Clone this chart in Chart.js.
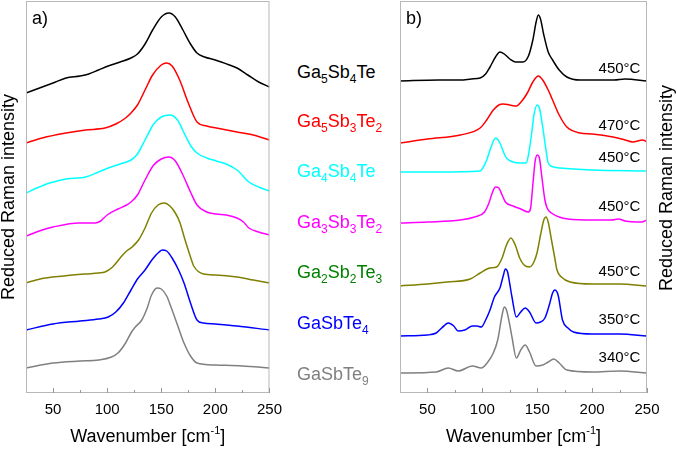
<!DOCTYPE html>
<html>
<head>
<meta charset="utf-8">
<script src="https://cdn.jsdelivr.net/npm/chart.js@4.4.1/dist/chart.umd.min.js"></script>
<style>
  body { margin: 0; width: 677px; height: 449px; position: relative; background: #fff; overflow: hidden;
         font-family: "Liberation Sans", Arial, sans-serif; }
  #boxA { position: absolute; left: 0; top: 0; }
  #boxB { position: absolute; left: 380px; top: 0; }
  .lab { position: absolute; left: 297px; font-size: 18px; line-height: 18px; white-space: nowrap; }
  .lab sub { font-size: 12px; line-height: 0; vertical-align: -5px; }
</style>
</head>
<body>
<canvas id="boxA" width="290" height="449"></canvas>
<canvas id="boxB" width="297" height="449"></canvas>

<div class="lab" style="top:63px;color:#000000">Ga<sub>5</sub>Sb<sub>4</sub>Te</div>
<div class="lab" style="top:112px;color:#ff0000">Ga<sub>5</sub>Sb<sub>3</sub>Te<sub>2</sub></div>
<div class="lab" style="top:162px;color:#00ffff">Ga<sub>4</sub>Sb<sub>4</sub>Te</div>
<div class="lab" style="top:213px;color:#ff00ff">Ga<sub>3</sub>Sb<sub>3</sub>Te<sub>2</sub></div>
<div class="lab" style="top:263px;color:#008000">Ga<sub>2</sub>Sb<sub>2</sub>Te<sub>3</sub></div>
<div class="lab" style="top:314px;color:#0000ff">GaSbTe<sub>4</sub></div>
<div class="lab" style="top:365px;color:#808080">GaSbTe<sub>9</sub></div>

<script>
// spectra: [wavenumber, reduced intensity + stack offset]
const a_Ga5Sb4Te = [[25,300],[35,304],[50,310],[62,315],[75,317],[83,319],[92,323],[101,327],[112,331],[122,335],[128,339],[135,349],[142,363],[150,376],[157,380],[163,376],[170,363],[177,349],[183,340],[190,336],[200,333],[213,328],[220,325],[230,318],[240,311],[250,306]];
const a_Ga5Sb3Te2 = [[25,250],[40,255],[62,260],[80,263],[98,265],[108,269],[117,275],[122,280],[128,288],[135,303],[142,318],[150,328],[155,330],[160,327],[167,313],[175,290],[183,271],[192,267],[201,265],[220,261],[235,258],[250,253]];
const a_Ga4Sb4Te = [[25,200],[35,205],[47,210],[62,214],[80,216],[92,221],[101,225],[112,229],[122,233],[128,239],[135,253],[143,269],[150,276],[158,278],[165,273],[172,258],[178,246],[183,240],[192,235],[201,232],[210,229],[220,223],[231,211],[240,206],[250,202]];
const a_Ga3Sb3Te2 = [[25,157],[40,163],[50,166],[74,170],[89,170],[94,172],[100,178],[110,184],[118,188],[122,191],[128,198],[135,213],[143,228],[150,234],[157,236],[163,232],[170,218],[177,201],[183,188],[192,181],[201,179],[210,178],[220,175],[226,171],[231,165],[240,161],[250,158]];
const a_Ga2Sb2Te3 = [[25,110],[38,114],[60,117],[80,119],[92,120],[98,121],[105,126],[112,135],[117,141],[123,146],[129,153],[135,165],[141,180],[147,188],[153,190],[158,187],[163,180],[167,171],[172,153],[177,136],[180,127],[189,119],[200,118],[220,116],[235,113],[250,110]];
const a_GaSbTe4 = [[25,63],[50,69],[75,72],[92,74],[101,76],[108,81],[115,90],[122,103],[128,114],[135,123],[142,134],[148,141],[151,143],[155,142],[160,135],[166,123],[171,110],[177,90],[183,73],[189,70],[200,69],[220,67],[250,63]];
const a_GaSbTe9 = [[25,25],[50,30],[75,32],[92,33],[104,36],[110,40],[117,50],[122,60],[126,66],[132,73],[137,85],[141,98],[146,105],[150,104],[155,97],[159,86],[165,68],[171,50],[177,37],[183,30],[200,28],[225,27],[250,25]];

const b_Ga5Sb4Te = [[25,312],[60,313],[80,313],[90,314],[98,315],[103,319],[107,326],[112,336],[116,341],[120,339],[125,334],[130,331],[137,331],[142,337],[146,353],[149,371],[151,378],[153,374],[156,358],[160,341],[164,333],[170,323],[177,316],[189,313],[220,313],[230,314],[250,312]];
const b_Ga5Sb3Te2 = [[25,250],[50,254],[80,258],[98,265],[104,273],[110,283],[115,288],[119,289],[125,288],[131,287],[136,292],[141,300],[146,311],[151,317],[155,313],[160,303],[164,293],[170,278],[177,266],[189,260],[200,259],[219,256],[230,253],[237,251],[246,253],[250,251]];
const b_Ga4Sb4Te = [[25,221],[60,221],[98,222],[101,226],[104,233],[108,246],[112,255],[116,250],[120,239],[122,235],[128,231],[135,230],[140,230],[142,238],[145,260],[147,278],[150,288],[152,285],[155,266],[158,243],[160,230],[165,226],[171,225],[200,223],[250,222]];
const b_Ga3Sb3Te2 = [[25,170],[50,171],[80,173],[93,176],[102,181],[106,190],[109,200],[112,206],[115,205],[118,198],[121,191],[128,187],[135,184],[142,181],[144,185],[146,208],[148,231],[150,238],[152,235],[154,218],[157,193],[159,185],[163,180],[170,176],[178,174],[200,173],[218,173],[224,174],[230,172],[245,171],[250,173]];
const b_Ga2Sb2Te3 = [[25,107],[50,109],[68,111],[89,114],[98,120],[107,125],[113,126],[118,135],[122,148],[126,155],[130,148],[134,135],[138,128],[143,126],[147,131],[150,141],[153,158],[156,173],[158,176],[160,171],[163,153],[166,135],[168,123],[172,116],[180,111],[200,109],[225,109],[250,107]];
const b_GaSbTe4 = [[25,57],[50,58],[58,60],[63,65],[69,70],[74,67],[78,62],[84,63],[91,67],[95,67],[99,66],[103,73],[107,83],[111,96],[116,105],[119,117],[121,124],[123,121],[125,109],[127,96],[131,76],[135,81],[139,85],[143,81],[149,70],[153,71],[157,75],[161,88],[164,100],[166,103],[169,98],[173,73],[178,65],[183,61],[200,59],[225,59],[250,57]];
const b_GaSbTe9 = [[25,20],[58,21],[69,25],[78,22],[91,27],[99,25],[105,31],[110,40],[114,53],[118,78],[120,86],[122,83],[125,68],[127,56],[131,35],[135,43],[139,48],[143,41],[149,27],[155,28],[160,31],[165,34],[170,30],[177,23],[200,21],[225,22],[250,20]];

const lineColors = ["#000000", "#ff0000", "#00ffff", "#ff00ff", "#808000", "#0000ff", "#808080"];
const seriesA = [a_Ga5Sb4Te, a_Ga5Sb3Te2, a_Ga4Sb4Te, a_Ga3Sb3Te2, a_Ga2Sb2Te3, a_GaSbTe4, a_GaSbTe9];
const seriesB = [b_Ga5Sb4Te, b_Ga5Sb3Te2, b_Ga4Sb4Te, b_Ga3Sb3Te2, b_Ga2Sb2Te3, b_GaSbTe4, b_GaSbTe9];

// annealing temperatures in panel b and the intensity where each label sits
const tempLabels = ["450°C", "470°C", "450°C", "450°C", "450°C", "350°C", "340°C"];
const tempLabelY = [324, 267, 235, 186, 121, 73, 35];
const tempLabelX = 244;

const xTicks = [50, 100, 150, 200, 250];
const xMinorTicks = [75, 125, 175, 225];

const FONT = '"Liberation Sans", Arial, sans-serif';

// frame, inward ticks and the titles
const decor = {
  id: 'decor',
  afterDraw(chart, args, opts) {
    const c = chart.ctx;
    const area = chart.chartArea;
    const x = chart.scales.x;
    const y = chart.scales.y;
    c.save();
    c.strokeStyle = '#b8b8b8';
    c.lineWidth = 1;
    c.strokeRect(area.left + 0.5, area.top + 0.5, area.right - area.left - 1, area.bottom - area.top - 1);

    c.strokeStyle = '#999';
    xTicks.forEach(v => {
      const px = Math.round(x.getPixelForValue(v)) + 0.5;
      c.beginPath(); c.moveTo(px, area.bottom); c.lineTo(px, area.bottom - 5); c.stroke();
    });
    xMinorTicks.forEach(v => {
      const px = Math.round(x.getPixelForValue(v)) + 0.5;
      c.beginPath(); c.moveTo(px, area.bottom); c.lineTo(px, area.bottom - 3); c.stroke();
    });

    c.fillStyle = '#000';
    // panel letter
    c.font = '18px ' + FONT;
    c.textBaseline = 'middle';
    c.textAlign = 'left';
    c.fillText(opts.letter, area.left + 6, 19);

    // x title with superscript
    const t1 = 'Wavenumber [cm', t2 = '-1', t3 = ']';
    c.font = '18px ' + FONT;
    const w1 = c.measureText(t1).width, w3 = c.measureText(t3).width;
    c.font = '11px ' + FONT;
    const w2 = c.measureText(t2).width;
    let sx = (area.left + area.right) / 2 - (w1 + w2 + w3) / 2;
    const ty = 437;
    c.textBaseline = 'middle';
    c.font = '18px ' + FONT;
    c.fillText(t1, sx, ty);
    c.font = '11px ' + FONT;
    c.fillText(t2, sx + w1, ty - 6);
    c.font = '18px ' + FONT;
    c.fillText(t3, sx + w1 + w2, ty);

    // y title, reading bottom to top on both panels
    c.save();
    c.translate(opts.yTitleX, opts.yTitleY);
    c.rotate(-Math.PI / 2);
    c.textAlign = 'center';
    c.font = '18px ' + FONT;
    c.fillText('Reduced Raman intensity', 0, 0);
    c.restore();

    if (opts.temps) {
      c.font = '15px ' + FONT;
      c.textAlign = 'right';
      c.textBaseline = 'middle';
      tempLabels.forEach((t, i) => {
        c.fillText(t, x.getPixelForValue(tempLabelX), y.getPixelForValue(tempLabelY[i]));
      });
    }
    c.restore();
  }
};

function makeChart(id, series, pad, decorOpts) {
  return new Chart(document.getElementById(id), {
    type: 'line',
    data: {
      datasets: series.map((pts, i) => ({
        data: pts.map(p => ({ x: p[0], y: p[1] })),
        borderColor: lineColors[i],
        borderWidth: 1.5,
        pointRadius: 0,
        fill: false,
        cubicInterpolationMode: 'monotone'
      }))
    },
    options: {
      responsive: false,
      animation: false,
      layout: { padding: pad },
      plugins: {
        legend: { display: false },
        tooltip: { enabled: false },
        decor: decorOpts
      },
      scales: {
        x: {
          type: 'linear',
          min: 25,
          max: 250,
          grid: { display: false, drawTicks: false },
          border: { display: false },
          ticks: { color: '#000', font: { size: 15, family: FONT }, padding: 8, maxRotation: 0 },
          afterBuildTicks: s => { s.ticks = xTicks.map(v => ({ value: v })); },
          afterFit: s => { s.height = 56; }
        },
        y: { display: false, min: 0, max: 392 }
      }
    },
    plugins: [decor]
  });
}

makeChart('boxA', seriesA, { left: 26, right: 16, top: 1, bottom: 0 },
  { letter: 'a)', yTitleX: 9, yTitleY: 197, temps: false });
makeChart('boxB', seriesB, { left: 20, right: 30, top: 1, bottom: 0 },
  { letter: 'b)', yTitleX: 287, yTitleY: 188, temps: true });
</script>
</body>
</html>
